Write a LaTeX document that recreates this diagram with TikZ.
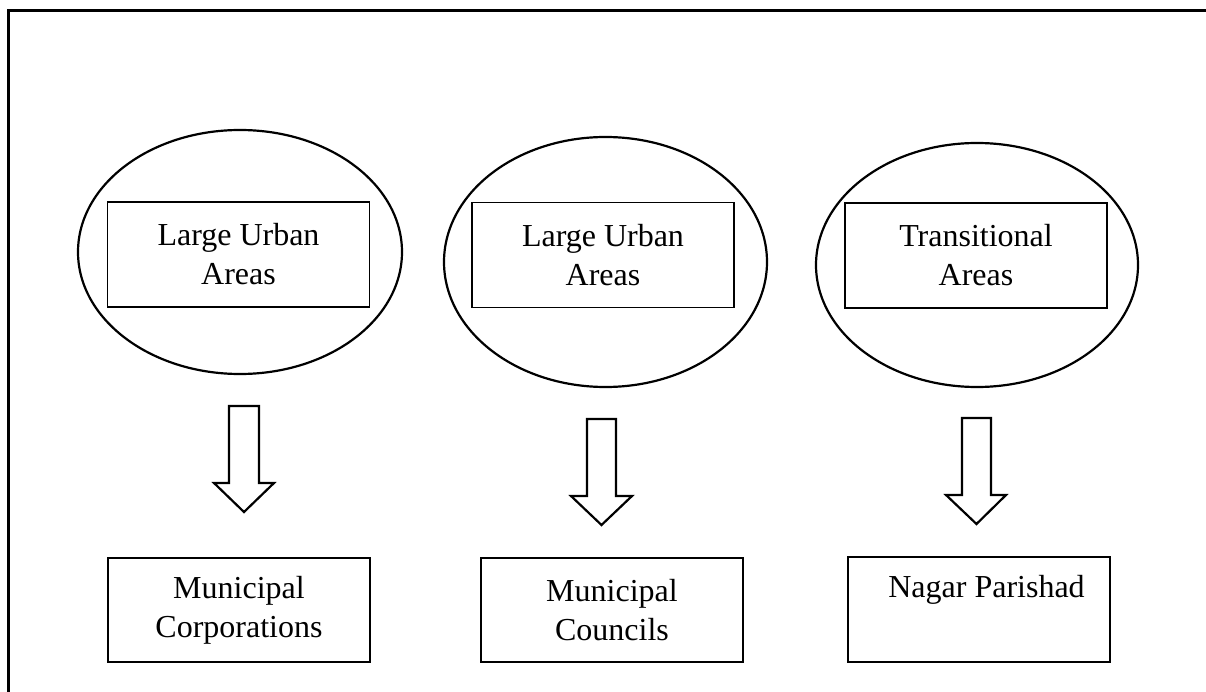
\documentclass[tikz,border=0pt]{standalone}
\usepackage{fontspec}
\setmainfont{Liberation Serif}
\usetikzlibrary{shapes.geometric}
\begin{document}
\begin{tikzpicture}[x=1pt,y=-1pt,
  oval/.style={draw, ellipse, line width=2.2pt, inner sep=0pt},
  box/.style={draw, rectangle, line width=1.6pt, inner sep=0pt, minimum width=262pt, minimum height=105pt,
    font=\fontsize{32}{39}\selectfont, align=center},
  lbl/.style={font=\fontsize{32}{39}\selectfont},
  blockarrow/.style={draw, line width=2.2pt, line join=miter}]
\useasboundingbox (0,0) rectangle (1206,692);
\draw[line width=3pt] (8.5,692) -- (8.5,10.5) -- (1206,10.5);

% ellipses
\node[oval, minimum width=324pt, minimum height=244pt] (e1) at (240,252) {};
\node[oval, minimum width=323pt, minimum height=250pt] (e2) at (605.5,262) {};
\node[oval, minimum width=322pt, minimum height=244pt] (e3) at (977,265) {};

% inner boxes
\node[box] (b1) at (238.5,254.5) {Large Urban\\Areas};
\node[box] (b2) at (603,255) {Large Urban\\Areas};
\node[box] (b3) at (976,255.5) {Transitional\\Areas};

% block arrows
\draw[blockarrow] (229,406) -- (259,406) -- (259,483) -- (274,483) -- (244,512) -- (214,483) -- (229,483) -- cycle;
\draw[blockarrow] (587,419) -- (616,419) -- (616,496) -- (632,496) -- (601.5,525) -- (571,496) -- (587,496) -- cycle;
\draw[blockarrow] (962,418) -- (991,418) -- (991,495) -- (1006,495) -- (976.5,524) -- (946,495) -- (962,495) -- cycle;

% bottom boxes
\node[box, minimum height=104pt] (b4) at (239,610) {Municipal\\Corporations};
\node[box, minimum height=104pt] (b5) at (612,610) {Municipal\\Councils};
\node[box] (b6) at (979,609.5) {};
\node[lbl, anchor=base] (t6) at (986.5,597) {Nagar Parishad};
\end{tikzpicture}
\end{document}
